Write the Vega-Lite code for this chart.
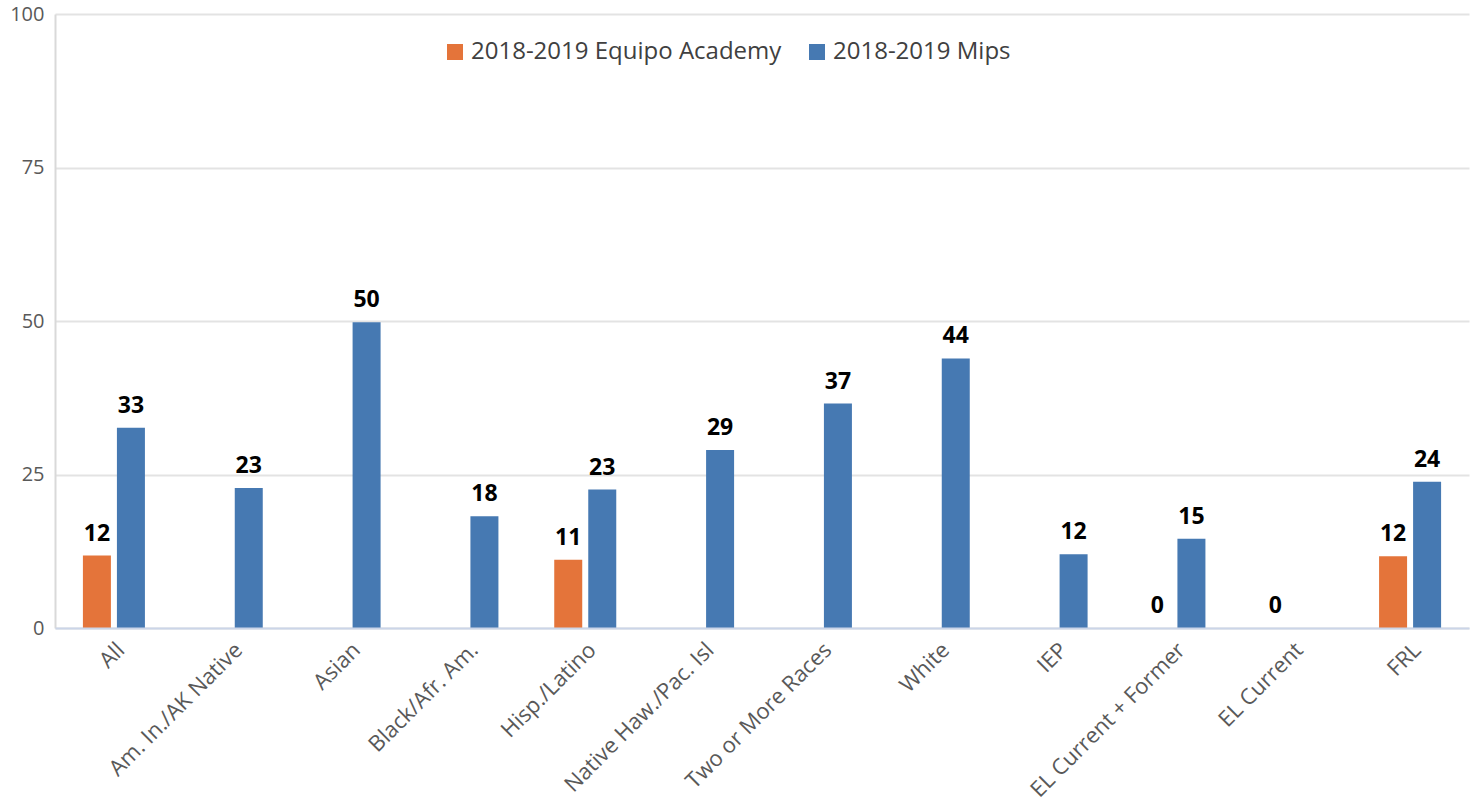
{
  "$schema": "https://vega.github.io/schema/vega-lite/v6.json",
  "width": 1414,
  "height": 614,
  "autosize": {"type": "none"},
  "padding": {"left": 55, "top": 14, "right": 5, "bottom": 178},
  "background": "white",
  "config": {"font": "Open Sans", "view": {"stroke": null}},
  "data": {
    "values": [
      {"Category": "All", "Series": "2018-2019 Equipo Academy", "Value": 11.8},
      {"Category": "All", "Series": "2018-2019 Mips", "Value": 32.6},
      {"Category": "Am. In./AK Native", "Series": "2018-2019 Mips", "Value": 22.8},
      {"Category": "Asian", "Series": "2018-2019 Mips", "Value": 49.8},
      {"Category": "Black/Afr. Am.", "Series": "2018-2019 Mips", "Value": 18.2},
      {"Category": "Hisp./Latino", "Series": "2018-2019 Equipo Academy", "Value": 11.1},
      {"Category": "Hisp./Latino", "Series": "2018-2019 Mips", "Value": 22.55},
      {"Category": "Native Haw./Pac. Isl", "Series": "2018-2019 Mips", "Value": 29.0},
      {"Category": "Two or More Races", "Series": "2018-2019 Mips", "Value": 36.55},
      {"Category": "White", "Series": "2018-2019 Mips", "Value": 43.9},
      {"Category": "IEP", "Series": "2018-2019 Mips", "Value": 12.0},
      {"Category": "EL Current + Former", "Series": "2018-2019 Equipo Academy", "Value": 0},
      {"Category": "EL Current + Former", "Series": "2018-2019 Mips", "Value": 14.55},
      {"Category": "EL Current", "Series": "2018-2019 Equipo Academy", "Value": 0},
      {"Category": "FRL", "Series": "2018-2019 Equipo Academy", "Value": 11.7},
      {"Category": "FRL", "Series": "2018-2019 Mips", "Value": 23.8}
    ]
  },
  "encoding": {
    "x": {
      "field": "Category",
      "type": "nominal",
      "sort": ["All", "Am. In./AK Native", "Asian", "Black/Afr. Am.", "Hisp./Latino", "Native Haw./Pac. Isl", "Two or More Races", "White", "IEP", "EL Current + Former", "EL Current", "FRL"],
      "scale": {"paddingInner": 0, "paddingOuter": 0},
      "axis": {
        "title": null,
        "labelAngle": -45,
        "labelFontSize": 22,
        "labelColor": "#595959",
        "labelLimit": 0,
        "labelDx": -4,
        "domainColor": "#cbd5e8",
        "domainWidth": 2,
        "ticks": false,
        "labelPadding": 11,
        "grid": false,
        "zindex": 1
      }
    },
    "xOffset": {
      "field": "Series",
      "type": "nominal",
      "scale": {"domain": ["2018-2019 Equipo Academy", "2018-2019 Mips"], "paddingInner": 0.176, "paddingOuter": 0.82}
    },
    "y": {
      "field": "Value",
      "type": "quantitative",
      "scale": {"domain": [0, 100], "nice": false},
      "axis": {
        "title": null,
        "values": [0, 25, 50, 75, 100],
        "labelFontSize": 20,
        "labelColor": "#595959",
        "labelPadding": 11,
        "ticks": false,
        "domainColor": "#d9d9d9",
        "domainWidth": 2,
        "gridColor": "#e3e3e3",
        "gridWidth": 2
      }
    }
  },
  "layer": [
    {
      "mark": {"type": "bar", "width": 28},
      "encoding": {
        "color": {
          "field": "Series",
          "type": "nominal",
          "scale": {"domain": ["2018-2019 Equipo Academy", "2018-2019 Mips"], "range": ["#e4743a", "#4679b2"]},
          "legend": {
            "title": null,
            "orient": "none",
            "direction": "horizontal",
            "legendX": 388,
            "legendY": 26,
            "labelFontSize": 24,
            "labelColor": "#404040",
            "labelLimit": 0,
            "symbolType": "square",
            "symbolSize": 256,
            "symbolStrokeWidth": 0,
            "columnPadding": 23,
            "labelOffset": 4
          }
        }
      }
    },
    {
      "mark": {"type": "text", "baseline": "alphabetic", "dy": -15, "fontSize": 23, "fontWeight": "bold", "color": "#000000"},
      "encoding": {
        "text": {"field": "Value", "type": "quantitative", "format": ".0f"}
      }
    }
  ]
}
